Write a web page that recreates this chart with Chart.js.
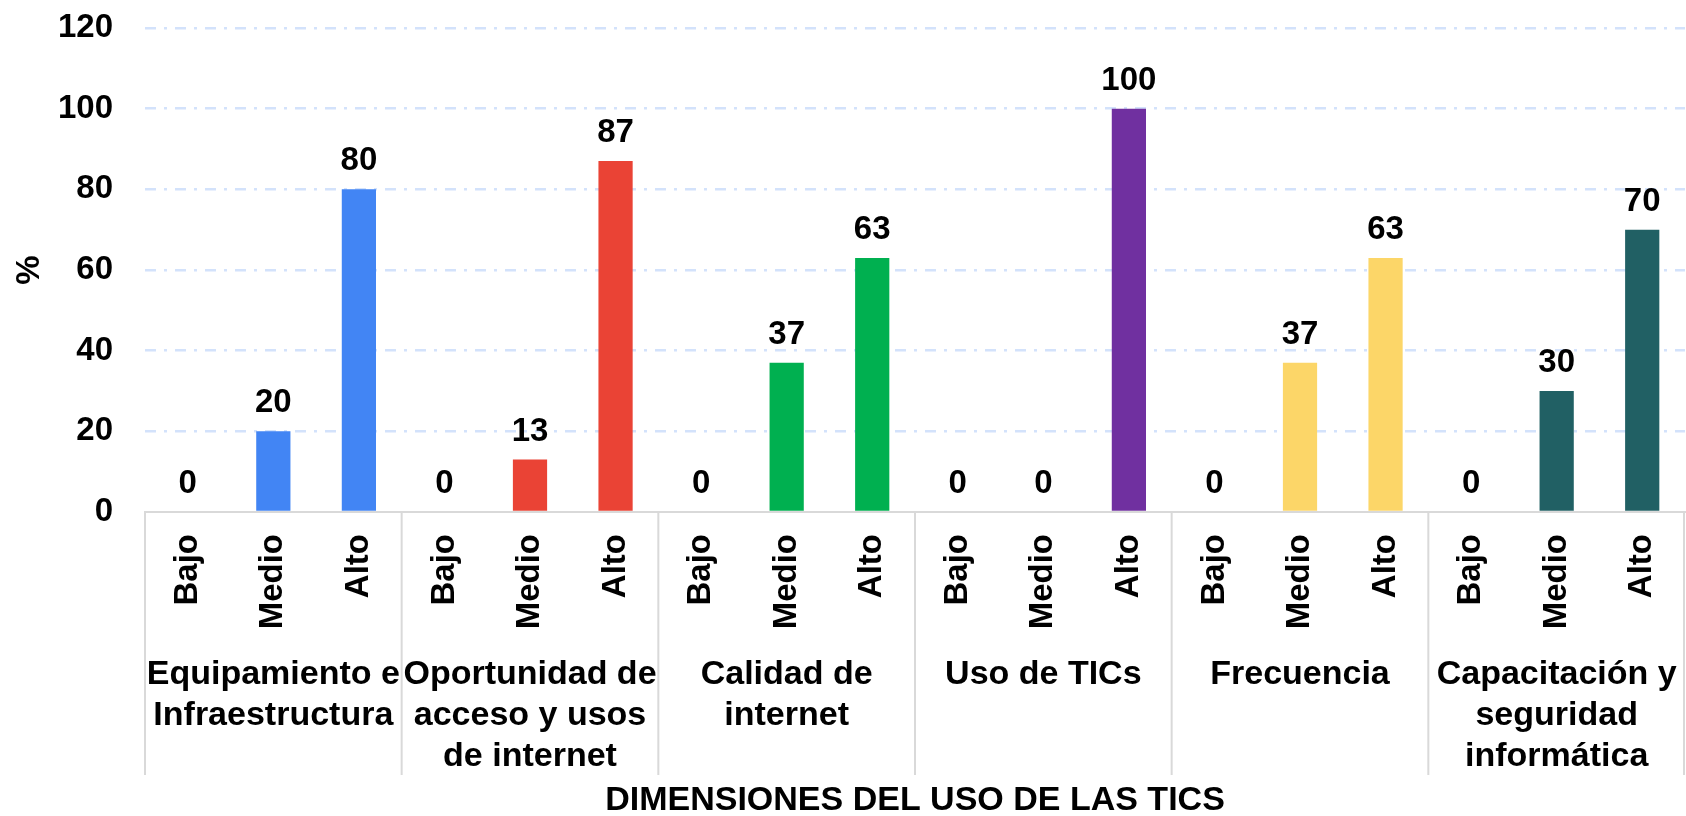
<!DOCTYPE html>
<html>
<head>
<meta charset="utf-8">
<script src="https://cdn.jsdelivr.net/npm/chart.js@4"></script>
<style>
  html, body { margin: 0; padding: 0; background: #fff; }
  #wrap { width: 1686px; height: 816px; }
</style>
</head>
<body>
<div id="wrap"><canvas id="chart" width="1686" height="816"></canvas></div>
<script>
// categories
var levels = ["Bajo", "Medio", "Alto"];
var groups = [
  ["Equipamiento e", "Infraestructura"],
  ["Oportunidad de", "acceso y usos", "de internet"],
  ["Calidad de", "internet"],
  ["Uso de TICs"],
  ["Frecuencia"],
  ["Capacitación y", "seguridad", "informática"]
];
// % per level, one entry per group
var bajo  = [0, 0, 0, 0, 0, 0];
var medio = [20, 13, 37, 0, 37, 30];
var alto  = [80, 87, 63, 100, 63, 70];
var groupColors = ["#4285F4", "#EA4335", "#00B050", "#7030A0", "#FCD668", "#216064"];

var labels = [], values = [], colors = [];
for (var g = 0; g < groups.length; g++) {
  labels.push(levels[0], levels[1], levels[2]);
  values.push(bajo[g], medio[g], alto[g]);
  colors.push(groupColors[g], groupColors[g], groupColors[g]);
}

var FONT = "'Liberation Sans', Arial, sans-serif";
Chart.defaults.color = "#000";
Chart.defaults.font.family = FONT;

// value labels above bars + group labels and separators under the axis
var extras = {
  id: "extras",
  afterDatasetsDraw: function(chart) {
    var ctx = chart.ctx;
    var meta = chart.getDatasetMeta(0);
    ctx.save();
    ctx.fillStyle = "#000";
    ctx.font = "bold 33px " + FONT;
    ctx.textAlign = "center";
    ctx.textBaseline = "alphabetic";
    meta.data.forEach(function(bar, i) {
      ctx.fillText(values[i], bar.x, bar.y - 19);
    });
    ctx.restore();
  },
  afterDraw: function(chart) {
    var ctx = chart.ctx;
    var x = chart.scales.x;
    var bottom = chart.chartArea.bottom;
    var step = x.getPixelForValue(1) - x.getPixelForValue(0);
    ctx.save();
    ctx.strokeStyle = "#d9d9d9";
    ctx.lineWidth = 2;
    for (var g = 0; g <= groups.length; g++) {
      var px = x.getPixelForValue(g * 3) - step / 2;
      if (g === groups.length) px = x.getPixelForValue(g * 3 - 1) + step / 2 - 1;
      ctx.beginPath();
      ctx.moveTo(px, bottom);
      ctx.lineTo(px, bottom + 263);
      ctx.stroke();
    }
    ctx.fillStyle = "#000";
    ctx.font = "bold 34px " + FONT;
    ctx.textAlign = "center";
    ctx.textBaseline = "alphabetic";
    groups.forEach(function(lines, g) {
      var cx = x.getPixelForValue(g * 3 + 1);
      lines.forEach(function(t, k) {
        ctx.fillText(t, cx, bottom + 172 + k * 41);
      });
    });
    ctx.restore();
  }
};

new Chart(document.getElementById("chart"), {
  type: "bar",
  data: {
    labels: labels,
    datasets: [{
      data: values,
      backgroundColor: colors,
      barPercentage: 0.4,
      categoryPercentage: 1
    }]
  },
  options: {
    responsive: false,
    animation: false,
    layout: { padding: { top: 28, right: 1, left: 0, bottom: 0 } },
    plugins: { legend: { display: false }, tooltip: { enabled: false } },
    scales: {
      x: {
        offset: true,
        grid: { display: false, drawTicks: false },
        border: { display: true, color: "#d9d9d9", width: 2 },
        ticks: {
          autoSkip: false,
          minRotation: 90,
          maxRotation: 90,
          padding: 22,
          font: { size: 33, weight: "bold" }
        },
        title: {
          display: true,
          text: "DIMENSIONES DEL USO DE LAS TICS",
          font: { size: 34, weight: "bold", lineHeight: 0.9 },
          padding: { top: 0, bottom: 0 }
        },
        afterFit: function(s) { s.height = 304; s.paddingLeft = 0; s.paddingRight = 0; }
      },
      y: {
        min: 0,
        max: 120,
        ticks: { stepSize: 20, padding: 32, font: { size: 33, weight: "bold" } },
        grid: {
          drawTicks: false,
          lineWidth: 2.5,
          color: function(c) { return c.tick && c.tick.value === 0 ? "rgba(0,0,0,0)" : "#d3e2fb"; }
        },
        border: { display: false, dash: [11, 8, 3, 8] },
        title: {
          display: true,
          text: "%",
          font: { size: 33, weight: "bold", lineHeight: 1.2 },
          padding: { top: 10, bottom: 0 }
        },
        afterFit: function(s) { s.width = 145; s.paddingTop = 0; s.paddingBottom = 0; }
      }
    }
  },
  plugins: [extras]
});
</script>
</body>
</html>
